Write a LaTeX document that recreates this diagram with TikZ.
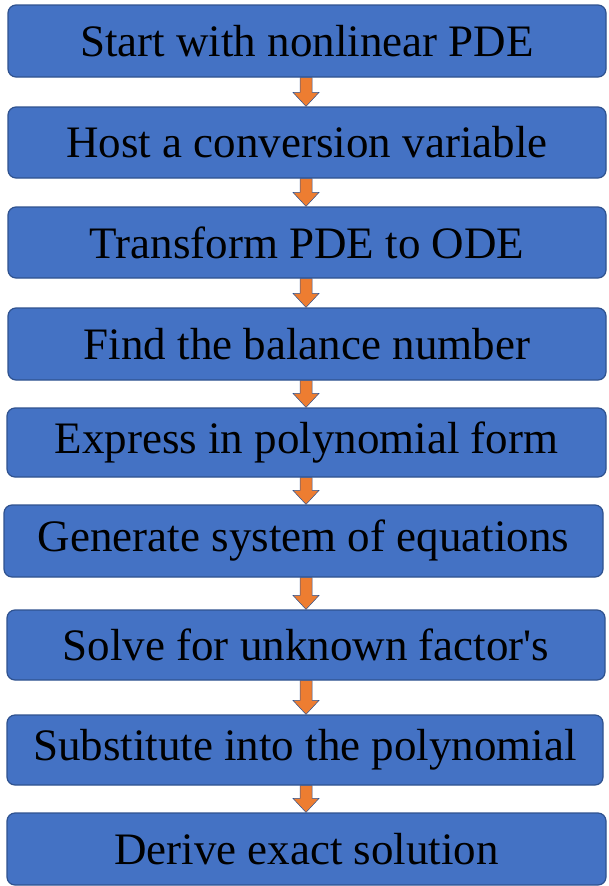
\documentclass[tikz,border=0pt]{standalone}
\usepackage{fontspec}
\setmainfont{Liberation Serif}
\usetikzlibrary{calc}
\definecolor{boxblue}{HTML}{4472C4}
\definecolor{boxedge}{HTML}{2F528F}
\definecolor{arroworange}{HTML}{ED7D31}
\tikzset{
  stepbox/.style={draw=boxedge, fill=boxblue, line width=1.2pt, rounded corners=8pt,
    inner sep=0pt, font=\fontsize{45}{54}\selectfont, text=black},
  flowarrow/.style={draw=boxedge, fill=arroworange, line width=0.5pt, line join=miter}
}
\newcommand\flowarr[2]{%
  \path[flowarrow]
    ($(#1.south -| ax)+(-6,0)$) -- ($(#2.north -| ax)+(-6,-14)$) --
    ($(#2.north -| ax)+(-13,-14)$) -- (#2.north -| ax) --
    ($(#2.north -| ax)+(13,-14)$) -- ($(#2.north -| ax)+(6,-14)$) --
    ($(#1.south -| ax)+(6,0)$) -- cycle;}
\begin{document}
\begin{tikzpicture}[x=1pt,y=-1pt]
\useasboundingbox (0,0) rectangle (608,886);
\coordinate (ax) at (306,0);
\node[stepbox, minimum width=598pt, minimum height=72pt] (b1) at (307,41) {Start with nonlinear PDE};
\node[stepbox, minimum width=598pt, minimum height=71pt] (b2) at (307,142.5) {Host a conversion variable};
\node[stepbox, minimum width=598pt, minimum height=71pt] (b3) at (307,242.5) {Transform PDE to ODE};
\node[stepbox, minimum width=598pt, minimum height=72pt] (b4) at (307,344) {Find the balance number};
\node[stepbox, minimum width=599pt, minimum height=69pt] (b5) at (306.5,442.5) {Express in polynomial form};
\node[stepbox, minimum width=599pt, minimum height=72pt] (b6) at (303.5,541) {Generate system of equations};
\node[stepbox, minimum width=598pt, minimum height=70pt] (b7) at (306,645) {Solve for unknown factor\textquotesingle s};
\node[stepbox, minimum width=596pt, minimum height=70pt] (b8) at (305,750) {Substitute into the polynomial};
\node[stepbox, minimum width=599pt, minimum height=72pt] (b9) at (306.5,849) {Derive exact solution};
\flowarr{b1}{b2}
\flowarr{b2}{b3}
\flowarr{b3}{b4}
\flowarr{b4}{b5}
\flowarr{b5}{b6}
\flowarr{b6}{b7}
\flowarr{b7}{b8}
\flowarr{b8}{b9}
\end{tikzpicture}
\end{document}
